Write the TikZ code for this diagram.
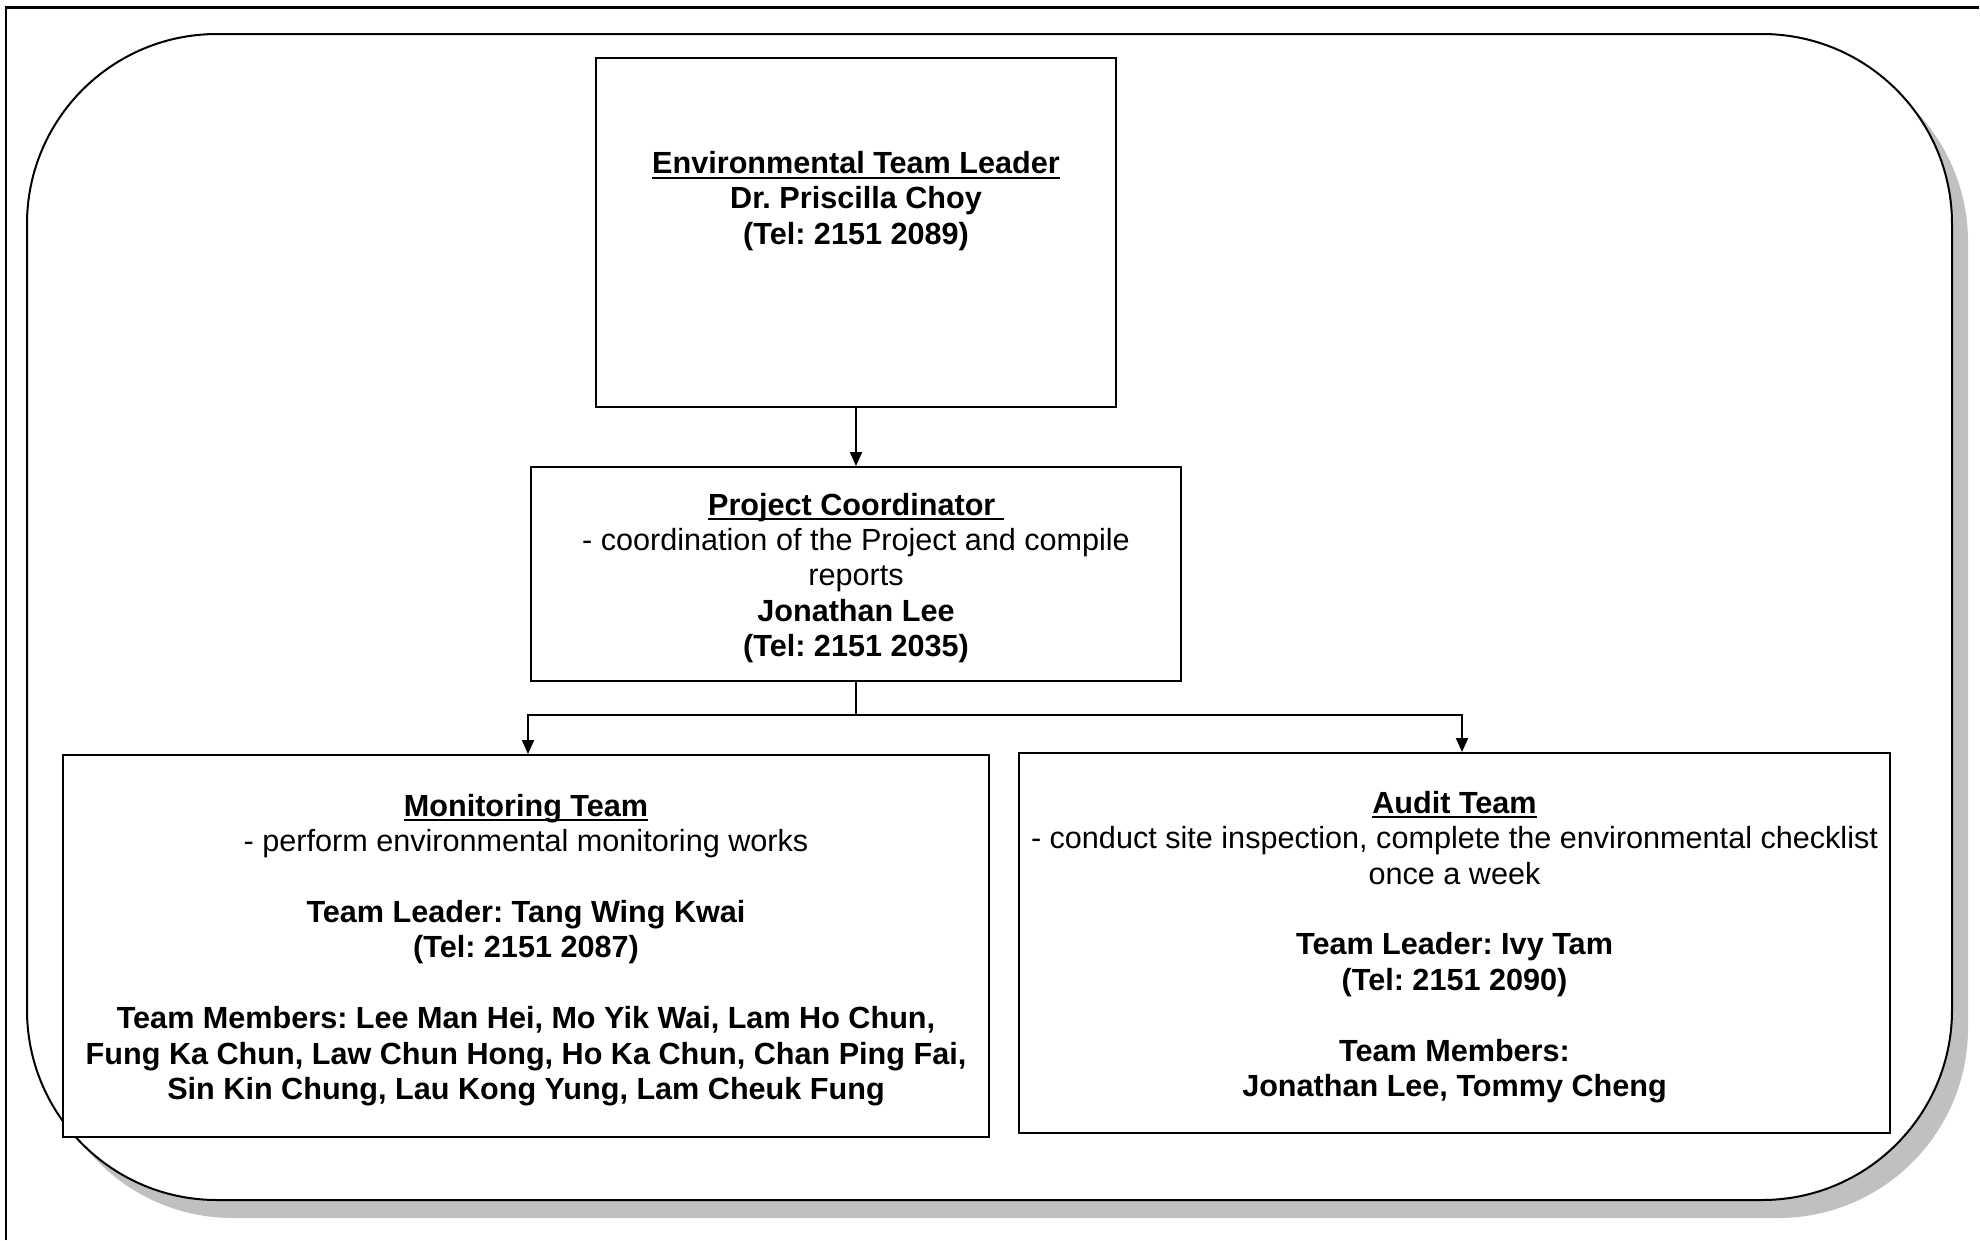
\documentclass[tikz,border=0pt]{standalone}
\usepackage{fontspec}
\setmainfont{Liberation Sans}
\usetikzlibrary{arrows.meta}
\definecolor{shadowgray}{RGB}{192,192,192}
\newcommand{\ulin}[1]{\setbox0\hbox{#1}\rlap{\rule[-5pt]{\wd0}{2pt}}\box0}
\tikzset{
  orgbox/.style={draw=black, line width=2pt, fill=white, rectangle, inner sep=0pt},
  txt/.style={align=center, inner sep=0pt, font=\fontsize{30.6}{35.4}\selectfont\frenchspacing},
  conn/.style={draw=black, line width=2pt, -{Triangle[length=14pt,width=12pt]}},
}
\begin{document}
\frenchspacing
\begin{tikzpicture}[x=1pt,y=-1pt]
\useasboundingbox (0,0) rectangle (1980,1240);
\fill[white] (0,0) rectangle (1980,1240);
% page frame (left and top)
\draw[line width=2.6pt] (6,1240) -- (6,7.3) -- (1979,7.3);
% rounded panel with shadow
\fill[shadowgray, rounded corners=190pt] (43,52) rectangle (1968,1218);
\draw[line width=2pt, fill=white, rounded corners=190pt] (27,34) rectangle (1952,1200);

% boxes
\node[orgbox, minimum width=520pt, minimum height=349pt] (etl) at (856,232.5) {};
\node[orgbox, minimum width=650pt, minimum height=214pt] (pc) at (856,574) {};
\node[orgbox, minimum width=926pt, minimum height=382pt] (mon) at (526,946) {};
\node[orgbox, minimum width=871pt, minimum height=380pt] (aud) at (1454.5,943) {};

% texts
\node[txt] (etlt) at (856,201) {\ulin{\textbf{Environmental Team Leader}}\\
  \textbf{Dr. Priscilla Choy}\\
  \textbf{(Tel: 2151 2089)}};
\node[txt] (pct) at (856,578) {\ulin{\textbf{Project Coordinator }}\\
  - coordination of the Project and compile\\
  reports\\
  \textbf{Jonathan Lee}\\
  \textbf{(Tel: 2151 2035)}};
\node[txt] (mont) at (526,950) {\ulin{\textbf{Monitoring Team}}\\
  - perform environmental monitoring works\\[35.4pt]
  \textbf{Team Leader: Tang Wing Kwai}\\
  \textbf{(Tel: 2151 2087)}\\[35.4pt]
  \textbf{Team Members: Lee Man Hei, Mo Yik Wai, Lam Ho Chun,}\\
  \textbf{Fung Ka Chun, Law Chun Hong, Ho Ka Chun, Chan Ping Fai,}\\
  \textbf{Sin Kin Chung, Lau Kong Yung, Lam Cheuk Fung}};
\node[txt] (audt) at (1454.5,947) {\ulin{\textbf{Audit Team}}\\
  - conduct site inspection, complete the environmental checklist\\
  once a week\\[35.4pt]
  \textbf{Team Leader: Ivy Tam}\\
  \textbf{(Tel: 2151 2090)}\\[35.4pt]
  \textbf{Team Members:}\\
  \textbf{Jonathan Lee, Tommy Cheng}};

% connectors
\coordinate (jn) at (856,715);
\draw[conn] (etl.south) -- (pc.north);
\draw[conn] (pc.south) -- (jn) -| ([xshift=2pt]mon.north);
\draw[conn] (jn) -| ([xshift=7.5pt]aud.north);
\end{tikzpicture}
\end{document}
